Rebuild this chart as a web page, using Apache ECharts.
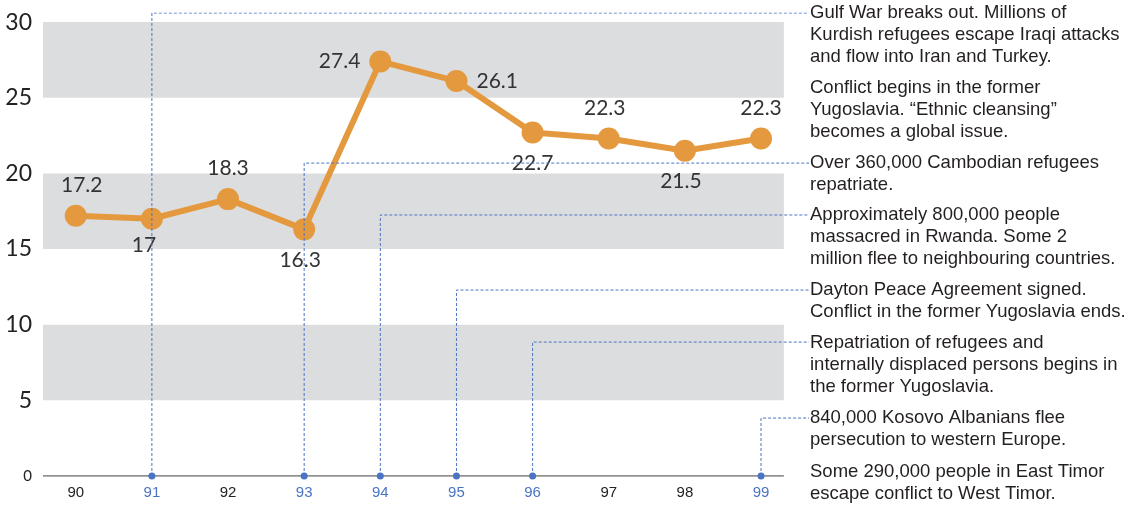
<!DOCTYPE html>
<html>
<head>
<meta charset="utf-8">
<script src="https://cdn.jsdelivr.net/npm/echarts@6/dist/echarts.min.js"></script>
<style>
  html, body { margin: 0; padding: 0; background: #fff; }
  #chart { width: 1128px; height: 505px; }
</style>
</head>
<body>
<div id="chart"></div>
<script>
// years on the x axis (two-digit, 1990s)
const years = [90, 91, 92, 93, 94, 95, 96, 97, 98, 99];
const values = [17.2, 17, 18.3, 16.3, 27.4, 26.1, 22.7, 22.3, 21.5, 22.3];
const labelPos = ['top', 'bottom', 'top', 'bottom', 'left', 'right', 'bottom', 'top', 'bottom', 'top'];
const labelShift = [[6, 0], [-8, -4], [0, 0], [-4, 0], [0, 0], [0, 0], [0, 0], [-4, 0], [-4, 0], [0, 0]];
const yTicks = [0, 5, 10, 15, 20, 25, 30];
const bands = [[5, 10], [15, 20], [25, 30]];

// event notes: year the leader starts from, level it bends at, text
const noteYears = [91, 93, 94, 95, 96, 99];
const noteLevels = [30.6, 20.68, 17.25, 12.29, 8.85, 3.83];
const notes = [
  { top: 2, text: 'Gulf War breaks out. Millions of\nKurdish refugees escape Iraqi attacks\nand flow into Iran and Turkey.' },
  { top: 77, text: 'Conflict begins in the former\nYugoslavia. \u201cEthnic cleansing\u201d\nbecomes a global issue.' },
  { top: 152, text: 'Over 360,000 Cambodian refugees\nrepatriate.' },
  { top: 204, text: 'Approximately 800,000 people\nmassacred in Rwanda. Some 2\nmillion flee to neighbouring countries.' },
  { top: 279, text: 'Dayton Peace Agreement signed.\nConflict in the former Yugoslavia ends.' },
  { top: 332, text: 'Repatriation of refugees and\ninternally displaced persons begins in\nthe former Yugoslavia.' },
  { top: 407, text: '840,000 Kosovo Albanians flee\npersecution to western Europe.' },
  { top: 461, text: 'Some 290,000 people in East Timor\nescape conflict to West Timor.' }
];

const orange = '#e4993f';
const blue = '#4a74c4';
const numFont = 'Lato, "Open Sans", sans-serif';
const textFont = '"Liberation Sans", Arial, sans-serif';
// plot spans xMin..plotEnd; the leaders run on to leaderEnd
const xMin = 89.57, plotEnd = 99.3, leaderEnd = 99.63;
const yTop = 30.6; // room above 30 for the top leader

const leaderSeries = noteYears.map((yr, i) => ({
  type: 'line',
  silent: true,
  z: 4,
  data: [[yr, 0], [yr, noteLevels[i]], [leaderEnd, noteLevels[i]]],
  symbol: 'circle',
  symbolSize: (v, p) => (p.dataIndex === 0 ? 7 : 0),
  itemStyle: { color: blue },
  lineStyle: { color: blue, width: 1, type: [3, 2] }
}));

const chart = echarts.init(document.getElementById('chart'));
chart.setOption({
  animation: false,
  grid: { left: 43, right: 319, top: 13, bottom: 29 },
  xAxis: {
    type: 'value',
    min: xMin,
    max: leaderEnd,
    splitLine: { show: false },
    axisTick: { show: false },
    axisLine: { show: false },
    axisLabel: {
      customValues: years,
      margin: 9,
      fontSize: 15,
      fontFamily: textFont,
      formatter: v => String(v),
      color: v => (noteYears.indexOf(Number(v)) >= 0 ? blue : '#222')
    }
  },
  yAxis: {
    type: 'value',
    min: 0,
    max: yTop,
    splitLine: { show: false },
    axisLine: { show: false },
    axisTick: { show: false },
    axisLabel: {
      customValues: yTicks,
      margin: 11,
      formatter: v => (v === 0 ? '{s|0}' : '{b|' + v + '}'),
      rich: {
        b: { fontSize: 23, fontFamily: numFont, color: '#222' },
        s: { fontSize: 15, fontFamily: numFont, color: '#222' }
      }
    }
  },
  series: [
    {
      // baseline (x axis line) across the plot only
      type: 'line',
      silent: true,
      z: 2,
      data: [[xMin, 0], [plotEnd, 0]],
      symbol: 'none',
      lineStyle: { color: '#6d6d6d', width: 1.5 },
      markArea: {
        silent: true,
        itemStyle: { color: '#dcdddf' },
        data: bands.map(b => [{ xAxis: xMin, yAxis: b[0] }, { xAxis: plotEnd, yAxis: b[1] }])
      }
    },
    {
      type: 'line',
      z: 3,
      data: years.map((y, i) => ({
        value: [y, values[i]],
        label: { position: labelPos[i], offset: labelShift[i] }
      })),
      symbol: 'circle',
      symbolSize: 22,
      itemStyle: { color: orange },
      lineStyle: { color: orange, width: 6 },
      label: {
        show: true,
        distance: 9,
        fontSize: 21,
        fontFamily: numFont,
        color: '#333',
        formatter: p => String(p.value[1])
      }
    }
  ].concat(leaderSeries),
  graphic: notes.map(n => ({
    type: 'text',
    left: 810,
    top: n.top,
    silent: true,
    style: {
      text: n.text,
      font: '18.5px ' + textFont,
      lineHeight: 22,
      fill: '#231f20'
    }
  }))
});
</script>
</body>
</html>
